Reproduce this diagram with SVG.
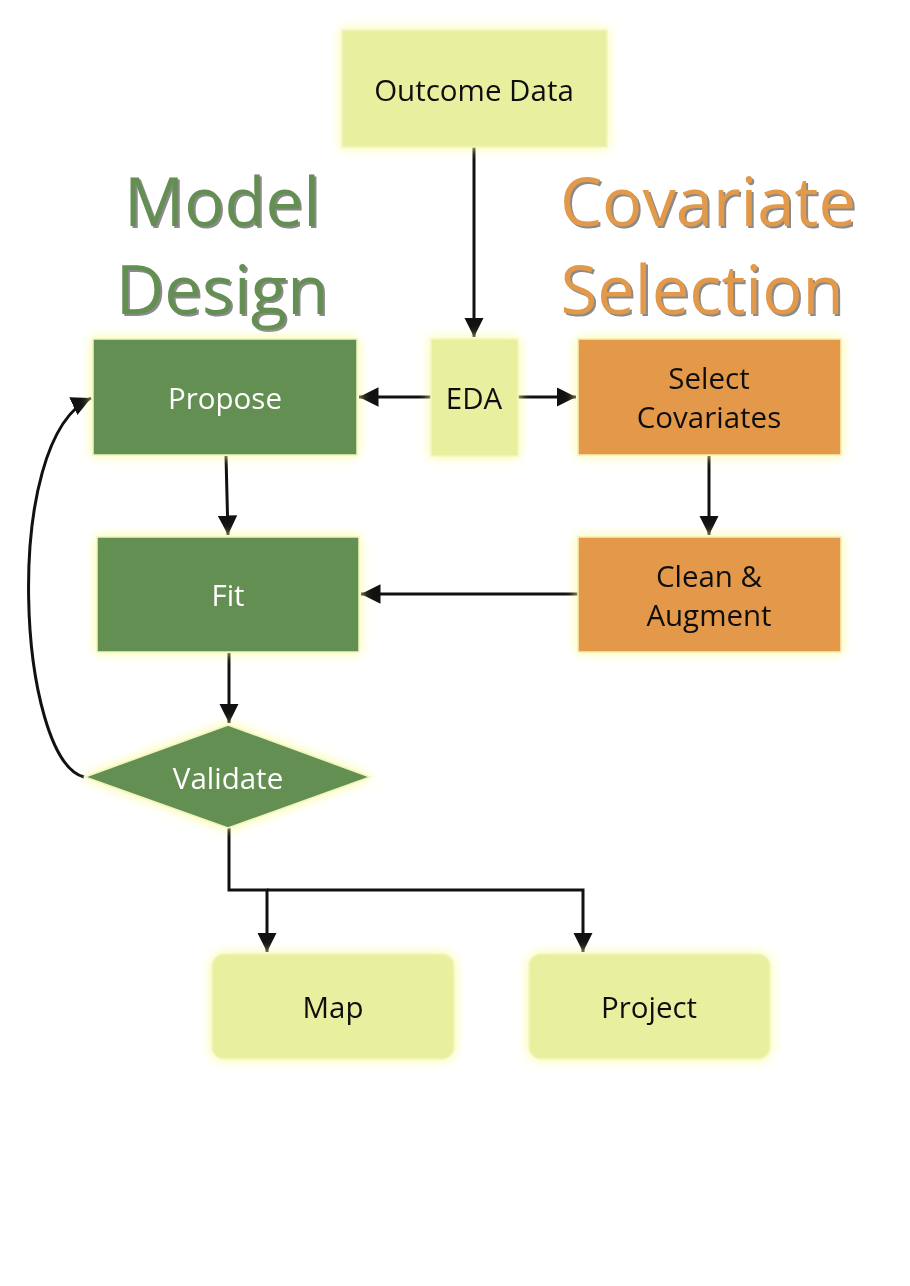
<svg xmlns="http://www.w3.org/2000/svg" width="910" height="1286" viewBox="0 0 910 1286">
<style>
.lbl{font-family:"Open Sans","Noto Sans","DejaVu Sans",sans-serif;font-size:29.5px;text-anchor:middle;dominant-baseline:central}
.dark{fill:#111}
.light{fill:#ffffff}
.green{fill:#638f52;stroke:#eef5c0;stroke-width:1.5}
.orange{fill:#e3994a;stroke:#f4f0b8;stroke-width:1.5}
.yellow{fill:#e8f09f;stroke:#f2f6c2;stroke-width:1.5}
.title{font-family:"Open Sans","Noto Sans","DejaVu Sans",sans-serif;font-size:67px;text-anchor:middle}
.edge{fill:none;stroke:#111;stroke-width:3}
</style>
<defs>
<filter id="glow" x="-20%" y="-20%" width="140%" height="140%">
<feDropShadow dx="0" dy="0" stdDeviation="6" flood-color="#fbfb9a" flood-opacity="1"/>
</filter>
<marker id="ah" viewBox="0 0 10 10" refX="10" refY="5" markerWidth="6.5" markerHeight="6.5" markerUnits="strokeWidth" orient="auto">
<path d="M0,0 L10,5 L0,10 z" fill="#111"/>
</marker>
</defs>
<rect width="910" height="1286" fill="#ffffff"/>
<g id="titles">
<g fill="#8a8a8a" transform="translate(2,2)">
<text class="title" x="222" y="226">Model</text>
<text class="title" x="222" y="314">Design</text>
<text class="title" x="708" y="226">Covariate</text>
<text class="title" x="702" y="314">Selection</text>
</g>
<g fill="#638f52">
<text class="title" x="222" y="226">Model</text>
<text class="title" x="222" y="314">Design</text>
</g>
<g fill="#e3994a">
<text class="title" x="708" y="226">Covariate</text>
<text class="title" x="702" y="314">Selection</text>
</g>
</g>
<g id="connectors">
<path class="edge" d="M474,147 L474,337" marker-end="url(#ah)"/>
<path class="edge" d="M431,397 L359,397" marker-end="url(#ah)"/>
<path class="edge" d="M518,397 L576,397" marker-end="url(#ah)"/>
<path class="edge" d="M226,456 L228,535" marker-end="url(#ah)"/>
<path class="edge" d="M709,456 L709,535" marker-end="url(#ah)"/>
<path class="edge" d="M578,594 L361,594" marker-end="url(#ah)"/>
<path class="edge" d="M229,653 L229,723" marker-end="url(#ah)"/>
<path class="edge" d="M84,777 C18,760 0,440 91,398" marker-end="url(#ah)"/>
<path class="edge" d="M229,828 L229,890 L267,890 L267,952" marker-end="url(#ah)"/>
<path class="edge" d="M267,890 L583,890 L583,952" marker-end="url(#ah)"/>
</g>
<g id="outcome" filter="url(#glow)">
<rect class="yellow" x="342" y="30" width="265" height="117"/>
<text class="lbl dark" x="474" y="89">Outcome Data</text>
</g>
<g id="propose" filter="url(#glow)">
<rect class="green" x="93" y="339" width="264" height="116"/>
<text class="lbl light" x="225" y="397">Propose</text>
</g>
<g id="eda" filter="url(#glow)">
<rect class="yellow" x="431" y="339" width="87" height="117"/>
<text class="lbl dark" x="474" y="397">EDA</text>
</g>
<g id="select" filter="url(#glow)">
<rect class="orange" x="578" y="339" width="263" height="116"/>
<text class="lbl dark" x="709" y="377">Select</text>
<text class="lbl dark" x="709" y="416">Covariates</text>
</g>
<g id="fit" filter="url(#glow)">
<rect class="green" x="97" y="537" width="262" height="115"/>
<text class="lbl light" x="228" y="594">Fit</text>
</g>
<g id="clean" filter="url(#glow)">
<rect class="orange" x="578" y="537" width="263" height="115"/>
<text class="lbl dark" x="709" y="575">Clean &amp;</text>
<text class="lbl dark" x="709" y="614">Augment</text>
</g>
<g id="validate" filter="url(#glow)">
<polygon class="green" points="228,725 370,777 228,828 85,777"/>
<text class="lbl light" x="228" y="777">Validate</text>
</g>
<g id="map" filter="url(#glow)">
<rect class="yellow" x="212" y="954" width="242" height="105" rx="12"/>
<text class="lbl dark" x="333" y="1006">Map</text>
</g>
<g id="project" filter="url(#glow)">
<rect class="yellow" x="529" y="954" width="241" height="105" rx="12"/>
<text class="lbl dark" x="649" y="1006">Project</text>
</g>
</svg>
